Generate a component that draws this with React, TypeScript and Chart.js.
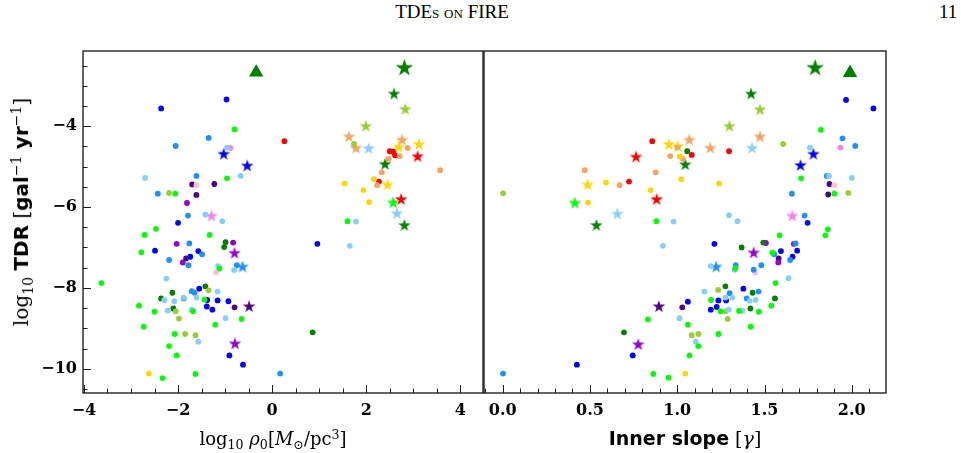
import React, { useEffect, useRef } from "react";
import { Chart, registerables } from "chart.js";

Chart.register(...registerables);

// ---------- axes ----------
const RHO_RANGE: [number, number] = [-4.02, 4.48];
const GAMMA_RANGE: [number, number] = [-0.107, 2.196];
const TDR_RANGE: [number, number] = [-10.6, -2.14];
const RHO_TICKS = [-4, -2, 0, 2, 4];
const GAMMA_TICKS = [0, 0.5, 1.0, 1.5, 2.0];
const TDR_TICKS = [-10, -8, -6, -4];
const RHO_MINOR_STEP = 0.5;
const GAMMA_MINOR_STEP = 0.1;
const TDR_MINOR_STEP = 0.5;

type Pt = [number, number];

// ---------- galaxies: dots, [log10 rho0, log10 TDR] and [gamma, log10 TDR] ----------
const blueRho: Pt[] = [[-2.36, -3.56], [-0.97, -3.34], [-2.0, -6.39], [-2.49, -7.08], [-1.57, -7.09], [-1.74, -7.23], [-1.55, -8.02], [-1.38, -8.3], [-1.16, -8.31], [-0.93, -8.33], [-1.39, -8.46], [-1.27, -8.54], [-0.91, -9.67], [-0.62, -9.9], [0.96, -6.91]];
const blueGamma: Pt[] = [[2.124, -3.56], [1.967, -3.35], [1.747, -6.39], [1.594, -7.09], [1.687, -7.08], [1.661, -7.23], [1.379, -8.02], [1.236, -8.31], [1.28, -8.31], [1.061, -8.34], [1.226, -8.47], [1.192, -8.54], [0.745, -9.67], [0.425, -9.9], [1.213, -6.91]];
const blueStarRho: Pt[] = [[-1.03, -4.68], [-0.53, -4.97]];
const blueStarGamma: Pt[] = [[1.78, -4.68], [1.706, -4.96]];

const dodgerRho: Pt[] = [[-1.35, -4.29], [-2.05, -4.49], [-1.61, -5.23], [-2.43, -5.67], [-1.79, -6.21], [-1.76, -6.9], [-1.49, -7.17], [-2.19, -7.31], [-1.78, -7.44], [-0.75, -7.44], [-1.71, -8.08], [-1.65, -8.12], [-1.88, -8.26], [0.17, -10.12]];
const dodgerGamma: Pt[] = [[1.947, -4.3], [2.02, -4.49], [1.857, -5.23], [1.657, -5.67], [1.73, -6.21], [1.678, -6.9], [1.556, -7.17], [1.647, -7.31], [1.335, -7.44], [1.482, -7.44], [1.466, -8.09], [1.3, -8.13], [1.398, -8.26], [0.002, -10.12], [1.438, -7.55]];
const dodgerStarRho: Pt[] = [[-0.63, -7.47]];
const dodgerStarGamma: Pt[] = [[1.223, -7.47]];

const skyRho: Pt[] = [[-0.96, -4.53], [-2.7, -5.28], [-0.67, -5.23], [-1.42, -6.19], [-1.06, -6.35], [-1.15, -7.46], [-0.81, -7.56], [-2.25, -7.77], [-1.16, -8.09], [-2.29, -8.3], [-2.08, -8.33], [-1.88, -8.24], [-1.61, -8.24], [-2.22, -8.56], [-1.71, -8.54], [-0.99, -8.75], [-1.57, -9.33], [1.65, -6.96], [1.78, -6.36]];
const skyGamma: Pt[] = [[1.76, -4.53], [2.0, -5.28], [1.87, -5.23], [1.297, -6.2], [1.345, -6.35], [1.192, -7.46], [1.329, -7.55], [1.638, -7.76], [1.156, -8.09], [1.415, -8.32], [1.449, -8.3], [1.276, -8.24], [1.316, -8.24], [1.295, -8.54], [1.373, -8.57], [1.013, -8.75], [1.106, -9.33], [0.918, -6.96], [0.979, -6.36]];
const skyStarRho: Pt[] = [[2.05, -4.54], [2.65, -6.15]];
const skyStarGamma: Pt[] = [[1.429, -4.53], [0.657, -6.16]];

const limeRho: Pt[] = [[-0.8, -4.08], [-0.96, -5.29], [-2.06, -5.67], [-2.47, -6.54], [-2.71, -6.69], [-1.33, -6.69], [-2.78, -7.12], [-1.12, -7.52], [-3.63, -7.88], [-1.44, -8.29], [-2.83, -8.44], [-2.5, -8.59], [-1.68, -8.58], [-0.65, -8.77], [-1.21, -8.91], [-2.73, -8.96], [-2.07, -9.14], [-2.19, -9.44], [-2.03, -9.67], [-2.33, -10.23], [-1.63, -10.13], [1.6, -6.35]];
const limeGamma: Pt[] = [[1.823, -4.09], [1.71, -5.29], [1.9, -5.67], [1.863, -6.55], [1.849, -6.7], [1.586, -6.7], [1.545, -7.13], [1.333, -7.52], [1.563, -7.88], [1.194, -8.3], [1.539, -8.44], [1.249, -8.58], [1.354, -8.57], [1.468, -8.59], [0.832, -8.78], [1.061, -8.91], [1.421, -8.96], [1.236, -9.14], [1.12, -9.44], [1.07, -9.67], [0.95, -10.22], [0.863, -10.13], [0.88, -6.35]];
const limeStarRho: Pt[] = [[2.57, -5.88]];
const limeStarGamma: Pt[] = [[0.413, -5.89]];

const greenRho: Pt[] = [[-0.99, -6.87], [-1.02, -6.99], [-1.42, -7.96], [-2.12, -8.12], [-2.36, -8.26], [-2.1, -8.51], [0.86, -9.1]];
const greenGamma: Pt[] = [[1.493, -6.88], [1.369, -7.0], [1.276, -7.96], [1.432, -8.12], [1.56, -8.26], [1.419, -8.51], [0.695, -9.1], [1.057, -4.62]];
const greenStarRho: Pt[] = [[2.59, -3.19], [2.4, -4.93], [2.81, -6.44]];
const greenStarGamma: Pt[] = [[1.423, -3.19], [1.046, -4.94], [0.537, -6.44]];
const bigStarRho: Pt[] = [[2.81, -2.54]];
const bigStarGamma: Pt[] = [[1.79, -2.54]];
const triangleRho: Pt[] = [[-0.34, -2.67]];
const triangleGamma: Pt[] = [[1.99, -2.68]];

const ygRho: Pt[] = [[1.74, -4.44], [-2.19, -5.65], [-1.35, -8.06], [-2.05, -8.58], [-1.98, -8.76], [-1.85, -9.14], [-1.63, -9.17]];
const ygGamma: Pt[] = [[1.607, -4.44], [1.98, -5.65], [0.002, -5.66], [1.234, -8.05], [1.276, -8.58], [1.289, -8.77], [1.083, -9.17], [1.122, -9.14]];
const ygStarRho: Pt[] = [[2.83, -3.57], [1.99, -3.99]];
const ygStarGamma: Pt[] = [[1.474, -3.58], [1.299, -3.99]];

const goldRho: Pt[] = [[1.54, -5.42], [2.16, -5.31], [1.94, -5.58], [2.06, -5.88], [-2.62, -10.12]];
const goldGamma: Pt[] = [[1.24, -5.42], [1.023, -5.31], [0.847, -5.58], [0.489, -5.89], [1.046, -10.12], [0.592, -5.39], [1.015, -4.75]];
const goldStarRho: Pt[] = [[2.69, -4.51], [3.12, -4.44], [2.45, -5.44]];
const goldStarGamma: Pt[] = [[1.004, -4.49], [0.952, -4.44], [0.487, -5.44]];

const sandRho: Pt[] = [[2.88, -4.54], [2.71, -4.74], [2.47, -4.81], [3.57, -5.09], [2.33, -5.14], [2.23, -5.46]];
const sandGamma: Pt[] = [[1.0, -4.53], [0.96, -4.74], [1.032, -4.81], [0.47, -5.09], [0.876, -5.14], [0.67, -5.46]];
const sandStarRho: Pt[] = [[1.63, -4.25], [1.78, -4.53], [2.76, -4.33]];
const sandStarGamma: Pt[] = [[1.474, -4.25], [1.189, -4.53], [1.069, -4.33]];

const redRho: Pt[] = [[0.26, -4.37], [2.5, -4.62], [2.57, -4.63], [2.61, -4.72], [2.27, -5.37]];
const redGamma: Pt[] = [[0.857, -4.37], [1.297, -4.62], [1.083, -4.71], [0.724, -5.37]];
const redStarRho: Pt[] = [[3.09, -4.74], [2.74, -5.8]];
const redStarGamma: Pt[] = [[0.764, -4.75], [0.882, -5.8]];

const violetRho: Pt[] = [[-0.89, -4.54]];
const violetGamma: Pt[] = [[1.935, -4.53]];
const violetStarRho: Pt[] = [[-1.29, -6.21]];
const violetStarGamma: Pt[] = [[1.659, -6.21]];

const pinkRho: Pt[] = [[-1.61, -5.46], [-1.19, -7.61]];
const pinkGamma: Pt[] = [[1.9, -5.46], [1.446, -7.62]];

const dvRho: Pt[] = [[-1.81, -5.9], [-2.03, -6.91], [-0.83, -6.88], [-1.9, -7.37]];
const dvGamma: Pt[] = [[1.508, -6.89], [1.668, -6.91], [1.579, -7.37]];
const dvStarRho: Pt[] = [[-0.8, -7.13], [-0.79, -9.37]];
const dvStarGamma: Pt[] = [[1.438, -7.12], [0.777, -9.39]];

const indigoRho: Pt[] = [[-1.7, -5.44], [-1.23, -5.43], [-1.61, -5.7], [-1.83, -7.27], [-0.8, -8.48]];
const indigoGamma: Pt[] = [[1.872, -5.43], [1.865, -5.69], [1.581, -7.27], [1.029, -8.48]];
const indigoStarRho: Pt[] = [[-0.49, -8.45]];
const indigoStarGamma: Pt[] = [[0.895, -8.45]];

interface Series {
  color: string;
  rho: Pt[];
  gamma: Pt[];
  starRho: Pt[];
  starGamma: Pt[];
}

const SERIES: Series[] = [
  { color: "#00ff00", rho: limeRho, gamma: limeGamma, starRho: limeStarRho, starGamma: limeStarGamma },
  { color: "#87cefa", rho: skyRho, gamma: skyGamma, starRho: skyStarRho, starGamma: skyStarGamma },
  { color: "#1e90ff", rho: dodgerRho, gamma: dodgerGamma, starRho: dodgerStarRho, starGamma: dodgerStarGamma },
  { color: "#0000ff", rho: blueRho, gamma: blueGamma, starRho: blueStarRho, starGamma: blueStarGamma },
  { color: "#9acd32", rho: ygRho, gamma: ygGamma, starRho: ygStarRho, starGamma: ygStarGamma },
  { color: "#008000", rho: greenRho, gamma: greenGamma, starRho: greenStarRho, starGamma: greenStarGamma },
  { color: "#ffc0cb", rho: pinkRho, gamma: pinkGamma, starRho: [], starGamma: [] },
  { color: "#ee82ee", rho: violetRho, gamma: violetGamma, starRho: violetStarRho, starGamma: violetStarGamma },
  { color: "#9400d3", rho: dvRho, gamma: dvGamma, starRho: dvStarRho, starGamma: dvStarGamma },
  { color: "#4b0082", rho: indigoRho, gamma: indigoGamma, starRho: indigoStarRho, starGamma: indigoStarGamma },
  { color: "#ffd700", rho: goldRho, gamma: goldGamma, starRho: goldStarRho, starGamma: goldStarGamma },
  { color: "#f4a460", rho: sandRho, gamma: sandGamma, starRho: sandStarRho, starGamma: sandStarGamma },
  { color: "#ff0000", rho: redRho, gamma: redGamma, starRho: redStarRho, starGamma: redStarGamma },
];

const DARK_GREEN = "#008000";

// filled five-pointed star sprite used as a point style
function starSprite(color: string, outer: number): HTMLCanvasElement {
  const size = Math.ceil(outer * 2 + 2);
  const c = document.createElement("canvas");
  c.width = size;
  c.height = size;
  const ctx = c.getContext("2d")!;
  const cx = size / 2;
  const cy = size / 2 + outer * 0.1;
  const inner = outer * 0.381966;
  ctx.beginPath();
  for (let i = 0; i < 10; i++) {
    const r = i % 2 === 0 ? outer : inner;
    const a = -Math.PI / 2 + (i * Math.PI) / 5;
    ctx.lineTo(cx + r * Math.cos(a), cy + r * Math.sin(a));
  }
  ctx.closePath();
  ctx.fillStyle = color;
  ctx.fill();
  return c;
}

const toXY = (pts: Pt[]) => pts.map(([x, y]) => ({ x, y }));

function buildDatasets(panel: "rho" | "gamma") {
  const ds: any[] = [];
  for (const s of SERIES) {
    ds.push({
      data: toXY(panel === "rho" ? s.rho : s.gamma),
      pointRadius: 2.9,
      pointHoverRadius: 2.9,
      pointBackgroundColor: s.color,
      pointBorderWidth: 0,
      pointBorderColor: s.color,
    });
  }
  for (const s of SERIES) {
    const pts = panel === "rho" ? s.starRho : s.starGamma;
    if (!pts.length) continue;
    ds.push({
      data: toXY(pts),
      pointStyle: starSprite(s.color, 6.6),
      pointRadius: 6,
      pointHoverRadius: 6,
      pointBackgroundColor: s.color,
      pointBorderWidth: 0,
    });
  }
  ds.push({
    data: toXY(panel === "rho" ? bigStarRho : bigStarGamma),
    pointStyle: starSprite(DARK_GREEN, 9.2),
    pointRadius: 9,
    pointHoverRadius: 9,
    pointBackgroundColor: DARK_GREEN,
    pointBorderWidth: 0,
  });
  ds.push({
    data: toXY(panel === "rho" ? triangleRho : triangleGamma),
    pointStyle: "triangle",
    pointRadius: 8.3,
    pointHoverRadius: 8.3,
    pointBackgroundColor: DARK_GREEN,
    pointBorderColor: DARK_GREEN,
    pointBorderWidth: 0,
  });
  return ds;
}

// frame plus inward major/minor tick marks
function framePlugin(xMajor: number[], xMinorStep: number, yMajor: number[] | null, yMinorStep: number) {
  return {
    id: "frameTicks",
    afterDraw(chart: any) {
      const { ctx, chartArea: a, scales } = chart;
      const xs = scales.x;
      const ys = scales.y;
      ctx.save();
      ctx.strokeStyle = "#1a1a1a";
      ctx.lineWidth = 1;
      ctx.beginPath();
      const xMin = xs.min, xMax = xs.max;
      for (let v = Math.ceil(xMin / xMinorStep) * xMinorStep; v <= xMax + 1e-9; v += xMinorStep) {
        const isMajor = xMajor.some((m) => Math.abs(m - v) < 1e-6);
        const px = Math.round(xs.getPixelForValue(v)) + 0.5;
        const len = isMajor ? 8 : 4.5;
        ctx.moveTo(px, a.bottom);
        ctx.lineTo(px, a.bottom - len);
      }
      if (yMajor) {
        for (let v = Math.ceil(ys.min / yMinorStep) * yMinorStep; v <= ys.max + 1e-9; v += yMinorStep) {
          const isMajor = yMajor.some((m) => Math.abs(m - v) < 1e-6);
          const py = Math.round(ys.getPixelForValue(v)) + 0.5;
          const len = isMajor ? 8 : 4.5;
          ctx.moveTo(a.left, py);
          ctx.lineTo(a.left + len, py);
        }
      }
      ctx.stroke();
      ctx.lineWidth = 1.4;
      ctx.strokeStyle = "#222";
      ctx.strokeRect(a.left, a.top, a.right - a.left, a.bottom - a.top);
      ctx.restore();
    },
  };
}

const minusFmt = (v: number) => (v < 0 ? "\u2212" + Math.abs(v) : String(v));
const tickFont = { family: "'DejaVu Serif', serif", weight: "bold" as const, size: 16 };

function makeChart(
  canvas: HTMLCanvasElement,
  panel: "rho" | "gamma",
  padding: { left: number; right: number; top: number; bottom: number }
) {
  const isRho = panel === "rho";
  const xRange = isRho ? RHO_RANGE : GAMMA_RANGE;
  const xTicks = isRho ? RHO_TICKS : GAMMA_TICKS;
  return new Chart(canvas, {
    type: "scatter",
    data: { datasets: buildDatasets(panel) },
    options: {
      animation: false,
      responsive: false,
      events: [],
      layout: { padding },
      plugins: { legend: { display: false }, tooltip: { enabled: false } },
      scales: {
        x: {
          type: "linear",
          min: xRange[0],
          max: xRange[1],
          grid: { display: false, drawTicks: false },
          border: { display: false },
          afterBuildTicks: (s: any) => {
            s.ticks = xTicks.map((value) => ({ value }));
          },
          afterFit: (s: any) => {
            s.height = 60;
          },
          ticks: {
            padding: 8,
            color: "#000",
            font: tickFont,
            maxRotation: 0,
            callback: (v: any) => (isRho ? minusFmt(Number(v)) : Number(v).toFixed(1)),
          },
        },
        y: {
          type: "linear",
          display: isRho,
          min: TDR_RANGE[0],
          max: TDR_RANGE[1],
          grid: { display: false, drawTicks: false },
          border: { display: false },
          afterBuildTicks: (s: any) => {
            s.ticks = TDR_TICKS.map((value) => ({ value }));
          },
          afterFit: (s: any) => {
            s.width = isRho ? 83 : 0;
          },
          ticks: {
            padding: 6,
            color: "#000",
            font: tickFont,
            callback: (v: any) => minusFmt(Number(v)),
          },
        },
      },
    },
    plugins: [framePlugin(xTicks, isRho ? RHO_MINOR_STEP : GAMMA_MINOR_STEP, isRho ? TDR_TICKS : null, TDR_MINOR_STEP)],
  } as any);
}

const serif = "'DejaVu Serif', serif";
const sansBold: React.CSSProperties = { fontFamily: "'DejaVu Sans', sans-serif", fontWeight: 700 };
const sub: React.CSSProperties = { fontSize: "0.7em", position: "relative", top: "0.35em" };
const sup: React.CSSProperties = { fontSize: "0.7em", position: "relative", top: "-0.5em" };

export default function App() {
  const leftRef = useRef<HTMLCanvasElement>(null);
  const rightRef = useRef<HTMLCanvasElement>(null);

  useEffect(() => {
    const left = makeChart(leftRef.current!, "rho", { left: 0, right: 8, top: 51, bottom: 0 });
    const right = makeChart(rightRef.current!, "gamma", { left: 14, right: 8, top: 51, bottom: 0 });
    return () => {
      left.destroy();
      right.destroy();
    };
  }, []);

  return (
    <div style={{ position: "absolute", left: 0, top: 0, width: 961, height: 453, background: "#fff", overflow: "hidden" }}>
      <div
        style={{
          position: "absolute",
          left: 452,
          top: 1,
          transform: "translateX(-50%)",
          fontFamily: "'Liberation Serif', serif",
          fontSize: 19,
          whiteSpace: "nowrap",
        }}
      >
        TDE<span style={{ fontVariant: "small-caps" }}>s on</span> FIRE
      </div>
      <div style={{ position: "absolute", left: 939, top: 1, fontFamily: "'Liberation Serif', serif", fontSize: 19 }}>11</div>

      <canvas ref={leftRef} width={492} height={453} style={{ position: "absolute", left: 0, top: 0 }} />
      <canvas ref={rightRef} width={425} height={453} style={{ position: "absolute", left: 470, top: 0 }} />

      <div
        style={{
          position: "absolute",
          left: 21,
          top: 212,
          transform: "translate(-50%, -50%) rotate(-90deg)",
          whiteSpace: "nowrap",
          fontFamily: serif,
          fontSize: 20,
        }}
      >
        log<span style={sub}>10</span> <span style={sansBold}>TDR</span> [<span style={sansBold}>gal</span>
        <span style={sup}>−1</span> <span style={sansBold}>yr</span>
        <span style={sup}>−1</span>]
      </div>

      <div
        style={{
          position: "absolute",
          left: 273,
          top: 438,
          transform: "translate(-50%, -50%)",
          whiteSpace: "nowrap",
          fontFamily: serif,
          fontSize: 18,
        }}
      >
        log<span style={sub}>10</span> <i>ρ</i>
        <span style={sub}>0</span>[<i>M</i>
        <span style={sub}>⊙</span>/pc<span style={sup}>3</span>]
      </div>

      <div
        style={{
          position: "absolute",
          left: 685,
          top: 438,
          transform: "translate(-50%, -50%)",
          whiteSpace: "nowrap",
          fontFamily: serif,
          fontSize: 19,
        }}
      >
        <span style={sansBold}>Inner slope</span> [<i>γ</i>]
      </div>
    </div>
  );
}
